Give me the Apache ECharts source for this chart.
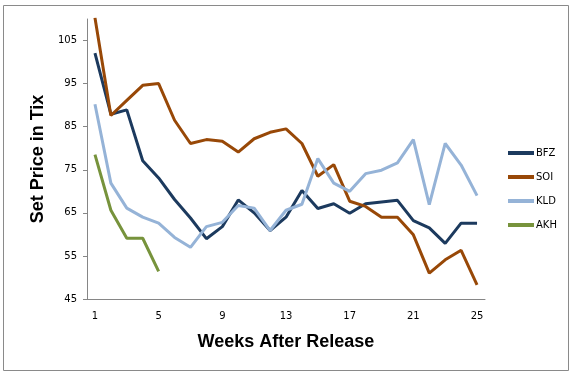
<!DOCTYPE html>
<html>
<head>
<meta charset="utf-8">
<script src="https://cdn.jsdelivr.net/npm/echarts@6/dist/echarts.min.js"></script>
<style>
  html, body { margin: 0; padding: 0; background: #fff; }
  #chart { width: 573px; height: 376px; }
</style>
</head>
<body>
<div id="chart"></div>
<script>
// weeks 1..25
const weeks = Array.from({ length: 25 }, (_, i) => String(i + 1))

const bfz = [102.1, 87.9, 88.9, 77.1, 73.1, 68.1, 63.8, 59.0, 61.8, 68.0, 65.0, 60.9, 64.0, 70.2, 66.0, 67.1, 64.9, 67.1, 67.5, 67.9, 63.2, 61.5, 57.9, 62.6, 62.6]
const soi = [110.3, 87.6, 91.1, 94.6, 95.0, 86.5, 81.1, 82.0, 81.6, 79.1, 82.2, 83.7, 84.5, 81.1, 73.5, 76.2, 67.7, 66.5, 64.0, 64.0, 59.9, 51.0, 54.1, 56.3, 48.3]
const kld = [90.2, 71.9, 66.1, 64.0, 62.6, 59.3, 57.0, 61.8, 62.8, 66.7, 66.1, 60.9, 65.6, 67.0, 77.6, 71.9, 70.0, 74.1, 74.9, 76.6, 82.0, 66.9, 81.1, 76.1, 69.0]
const akh = [78.5, 65.6, 59.1, 59.1, 51.4]

const seriesNames = ['BFZ', 'SOI', 'KLD', 'AKH']
const seriesColors = ['#1c3a5e', '#984807', '#95b3d7', '#77933c']
const seriesData = [bfz, soi, kld, akh]

const chart = echarts.init(document.getElementById('chart'))

const option = {
    backgroundColor: '#fff',
    animation: false,
    graphic: [
        {
            type: 'rect',
            shape: { x: 3.5, y: 5.5, width: 565, height: 365 },
            style: { fill: 'none', stroke: '#8a8a8a', lineWidth: 1 }
        }
    ],
    grid: {
        left: 87,
        right: 88,
        top: 19,
        bottom: 77
    },
    legend: {
        orient: 'vertical',
        left: 503,
        top: 143,
        itemWidth: 26,
        itemHeight: 4,
        itemGap: 14,
        icon: 'rect',
        textStyle: {
            fontFamily: 'DejaVu Sans',
            fontSize: 10,
            color: '#000',
            padding: [0, 0, 0, -3]
        },
        data: seriesNames
    },
    xAxis: {
        type: 'category',
        data: weeks,
        boundaryGap: true,
        name: 'Weeks After Release',
        nameLocation: 'middle',
        nameGap: 34,
        nameTextStyle: {
            fontFamily: 'Liberation Sans',
            fontWeight: 'bold',
            fontSize: 18,
            color: '#000'
        },
        axisLine: { lineStyle: { color: '#868686' } },
        axisTick: { interval: 1, length: 5, lineStyle: { color: '#868686' } },
        axisLabel: {
            interval: 3,
            margin: 12,
            fontFamily: 'DejaVu Sans',
            fontSize: 10,
            color: '#000'
        },
        splitLine: { show: false }
    },
    yAxis: {
        type: 'value',
        min: 45,
        max: 110,
        interval: 10,
        name: 'Set Price in Tix',
        nameLocation: 'middle',
        nameGap: 40,
        nameTextStyle: {
            fontFamily: 'Liberation Sans',
            fontWeight: 'bold',
            fontSize: 18,
            color: '#000'
        },
        axisLine: { show: true, lineStyle: { color: '#868686' } },
        axisTick: { show: true, length: 4, lineStyle: { color: '#868686' } },
        axisLabel: {
            showMaxLabel: false,
            margin: 10,
            fontFamily: 'DejaVu Sans',
            fontSize: 10,
            color: '#000'
        },
        splitLine: { show: false }
    },
    series: seriesNames.map((name, i) => ({
        name: name,
        type: 'line',
        data: seriesData[i],
        showSymbol: false,
        symbol: 'none',
        clip: true,
        lineStyle: { color: seriesColors[i], width: 3 },
        itemStyle: { color: seriesColors[i] }
    }))
}

chart.setOption(option)
</script>
</body>
</html>
